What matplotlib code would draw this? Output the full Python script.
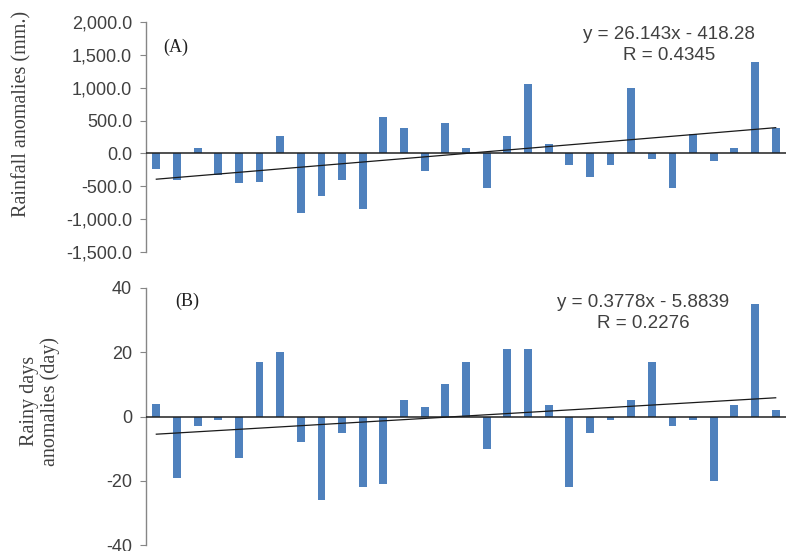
import numpy as np
import matplotlib
matplotlib.use("Agg")
import matplotlib.pyplot as plt
from matplotlib.ticker import FuncFormatter, MultipleLocator

# ---- data ----
years = list(range(1, 32))
rainfall_anom = [-230, -410, 90, -330, -450, -440, 270, -910, -650, -410, -850,
                 550, 380, -270, 460, 90, -520, 260, 1050, 140, -170, -360, -180,
                 990, -80, -520, 300, -110, 90, 1390, 380]
rainy_days_anom = [4, -19, -3, -1, -13, 17, 20, -8, -26, -5, -22, -21, 5, 3, 10,
                   17, -10, 21, 21, 3.5, -22, -5, -1, 5, 17, -3, -1, -20, 3.5, 35, 2]
trend_a = (26.143, -418.28)
trend_b = (0.3778, -5.8839)
eq_a = "y = 26.143x - 418.28\nR = 0.4345"
eq_b = "y = 0.3778x - 5.8839\nR = 0.2276"
ylabel_a = "Rainfall anomalies (mm.)"
ylabel_b = "Rainy days\nanomalies (day)"

BAR = "#4F81BD"
GREY = "#868686"
TXT = "#404040"
SANS = ["Liberation Sans", "DejaVu Sans"]
SERIF = ["Liberation Serif", "DejaVu Serif"]

fig = plt.figure(figsize=(7.86, 5.51), dpi=100)
W, H = 786, 551
axA = fig.add_axes([146 / W, 1 - 252 / H, 640 / W, 230 / H])
axB = fig.add_axes([146 / W, 1 - 545 / H, 640 / W, 257 / H])


def style(ax, vals, trend, ylim, step, fmt, eq, eqpos, tag, tagpos):
    x = np.array(years)
    ax.bar(x, vals, width=0.38, color=BAR, zorder=2)
    ax.axhline(0, color="#202020", lw=1.1, zorder=3)
    xt = np.array([x[0], x[-1]])
    ax.plot(xt, trend[0] * xt + trend[1], color="#1a1a1a", lw=0.9, zorder=4)
    ax.set_xlim(0.5, 31.5)
    ax.set_ylim(*ylim)
    ax.yaxis.set_major_locator(MultipleLocator(step))
    ax.yaxis.set_major_formatter(FuncFormatter(fmt))
    for s in ["top", "right", "bottom"]:
        ax.spines[s].set_visible(False)
    ax.spines["left"].set_color(GREY)
    ax.spines["left"].set_linewidth(1)
    ax.set_xticks([])
    ax.tick_params(axis="y", direction="out", length=4, color=GREY, pad=6,
                   labelsize=13, labelcolor=TXT)
    for lab in ax.get_yticklabels():
        lab.set_family(SANS)
    ax.text(eqpos[0], eqpos[1], eq, transform=ax.transAxes, ha="center",
            va="center", fontsize=13.5, family=SANS, color=TXT, linespacing=1.25)
    ax.text(tagpos[0], tagpos[1], tag, transform=ax.transAxes, ha="center",
            va="center", fontsize=13, family=SERIF, color="#202020")
    ax.patch.set_alpha(0)


style(axA, rainfall_anom, trend_a, (-1500, 2000), 500,
      lambda v, p: f"{v:,.1f}", eq_a, (0.817, 0.90), "(A)", (0.047, 0.891))
style(axB, rainy_days_anom, trend_b, (-40, 40), 20,
      lambda v, p: f"{v:.0f}", eq_b, (0.777, 0.903), "(B)", (0.064, 0.949))

fig.text(22 / W, 1 - 114 / H, ylabel_a, rotation=90, ha="center", va="center",
         fontsize=14.5, family=SERIF, color=TXT)
fig.text(40 / W, 1 - 401 / H, ylabel_b, rotation=90, ha="center", va="center",
         fontsize=14.5, family=SERIF, color=TXT, linespacing=1.15)

fig.savefig("out.png", dpi=100)
